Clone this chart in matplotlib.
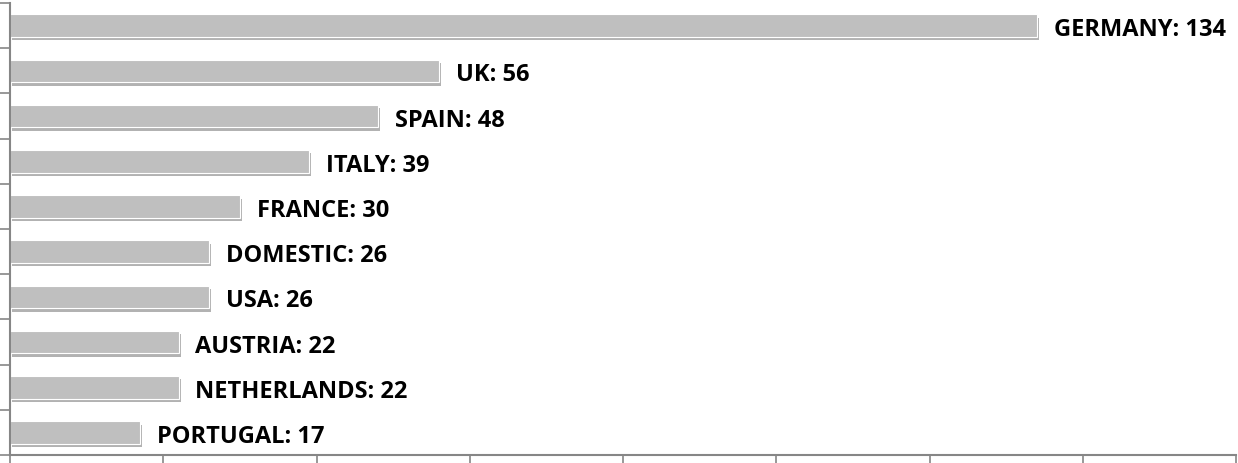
import matplotlib.pyplot as plt
import matplotlib.patheffects as pe

countries = ["GERMANY", "UK", "SPAIN", "ITALY", "FRANCE", "DOMESTIC", "USA",
             "AUSTRIA", "NETHERLANDS", "PORTUGAL"]
values = [134, 56, 48, 39, 30, 26, 26, 22, 22, 17]

plt.rcParams['font.family'] = ['Open Sans', 'DejaVu Sans']

fig = plt.figure(figsize=(12.38, 4.64), dpi=100)
ax = fig.add_axes([10 / 1238, 8 / 464, 1226 / 1238, 452 / 464])

ypos = list(range(len(countries)))[::-1]
bars = ax.barh(ypos, values, height=0.5, color='#BFBFBF', edgecolor='white', linewidth=0.8)
for b in bars:
    b.set_path_effects([pe.SimplePatchShadow(offset=(1.5, -2.5), shadow_rgbFace='#7f7f7f', alpha=0.6),
                        pe.Normal()])

for y, name, v in zip(ypos, countries, values):
    ax.text(v + 2.2, y - 0.08, f"{name}: {v}", va='center', ha='left',
            fontsize=17, fontweight='bold', color='black')

ax.set_xlim(0, 160)
ax.set_ylim(-0.5, len(countries) - 0.5)
ax.set_xticks(range(0, 161, 20))
ax.set_xticklabels([])
ax.set_yticks([i - 0.5 for i in range(len(countries) + 1)])
ax.set_yticklabels([])
ax.tick_params(axis='both', direction='out', length=7, width=1.2, color='#868686')
for s in ['top', 'right']:
    ax.spines[s].set_visible(False)
for s in ['left', 'bottom']:
    ax.spines[s].set_color('#868686')
    ax.spines[s].set_linewidth(1.5)

plt.savefig('out.png', dpi=100)
